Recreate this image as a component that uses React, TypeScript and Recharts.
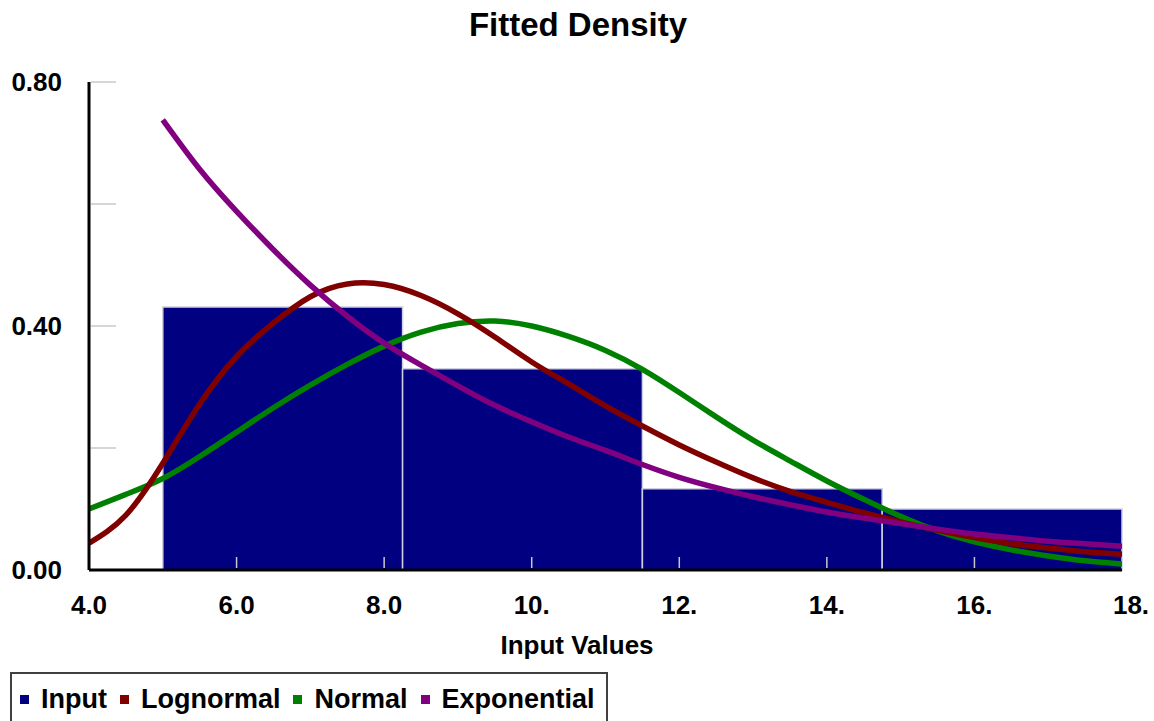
import React from 'react';
import { ComposedChart, Line, XAxis, YAxis, ReferenceArea } from 'recharts';

// histogram bins
const binStart = [5.0, 8.25, 11.5, 14.75];
const binEnd = [8.25, 11.5, 14.75, 18.0];
const binDensity = [0.431, 0.33, 0.133, 0.1];

// fitted curves, sampled every 0.5
const xs = [4.0, 4.5, 5.0, 5.5, 6.0, 6.5, 7.0, 7.5, 8.0, 8.5, 9.0, 9.5, 10.0, 10.5, 11.0, 11.5, 12.0, 12.5, 13.0, 13.5, 14.0, 14.5, 15.0, 15.5, 16.0, 16.5, 17.0, 17.5, 18.0];
const lognormal = [0.044, 0.09, 0.175, 0.272, 0.35, 0.405, 0.448, 0.469, 0.468, 0.45, 0.42, 0.382, 0.341, 0.305, 0.269, 0.236, 0.205, 0.177, 0.151, 0.129, 0.111, 0.094, 0.079, 0.065, 0.053, 0.043, 0.036, 0.03, 0.026];
const normal = [0.1, 0.124, 0.15, 0.186, 0.226, 0.266, 0.303, 0.337, 0.367, 0.39, 0.404, 0.408, 0.4, 0.383, 0.36, 0.329, 0.291, 0.251, 0.213, 0.179, 0.146, 0.116, 0.088, 0.064, 0.046, 0.033, 0.023, 0.015, 0.01];
const exponential = [null, null, 0.738, 0.657, 0.588, 0.525, 0.467, 0.416, 0.372, 0.336, 0.302, 0.27, 0.243, 0.218, 0.196, 0.173, 0.152, 0.135, 0.12, 0.107, 0.095, 0.085, 0.076, 0.067, 0.059, 0.053, 0.047, 0.043, 0.039];

const xTicks = [4, 6, 8, 10, 12, 14, 16, 18];
const yTicks = [0, 0.2, 0.4, 0.6, 0.8];
const yLabeled = [0, 0.4, 0.8];

const legendItems = [
  { name: 'Input', color: '#000080' },
  { name: 'Lognormal', color: '#800000' },
  { name: 'Normal', color: '#008000' },
  { name: 'Exponential', color: '#800080' },
];

const data = xs.map((x, i) => ({
  x,
  lognormal: lognormal[i],
  normal: normal[i],
  exponential: exponential[i],
}));

const FONT = '"Liberation Sans", Arial, sans-serif';

const fmtX = (v: number) => (v < 10 ? v.toFixed(1) : `${v}.`);

const XTick = (props: any) => {
  const { x, y, payload, index } = props;
  const v = payload.value;
  const last = index === xTicks.length - 1;
  return (
    <g>
      {v !== 4 && !last && (
        <line x1={x} x2={x} y1={y - 2} y2={y - 13} stroke="#c8c8c8" strokeWidth={1.5} />
      )}
      <text
        x={x + (last ? 9 : 0)}
        y={y + 35}
        textAnchor="middle"
        dominantBaseline="central"
        fontFamily={FONT}
        fontWeight="bold"
        fontSize={26}
        fill="#000"
      >
        {fmtX(v)}
      </text>
    </g>
  );
};

const YTick = (props: any) => {
  const { x, y, payload } = props;
  const v = payload.value;
  const showLabel = yLabeled.some((t) => Math.abs(t - v) < 1e-6);
  return (
    <g>
      {v !== 0 && <line x1={x + 2} x2={x + 27} y1={y} y2={y} stroke="#c8c8c8" strokeWidth={1.5} />}
      {showLabel && (
        <text
          x={x - 27}
          y={y}
          textAnchor="end"
          dominantBaseline="central"
          fontFamily={FONT}
          fontWeight="bold"
          fontSize={26}
          fill="#000"
        >
          {v.toFixed(2)}
        </text>
      )}
    </g>
  );
};

export default function App() {
  return (
    <div style={{ position: 'absolute', left: 0, top: 0, width: 1154, height: 721, background: '#fff', overflow: 'hidden' }}>
      <div
        style={{
          position: 'absolute',
          left: 0,
          width: 1156,
          top: 4,
          textAlign: 'center',
          fontFamily: FONT,
          fontWeight: 'bold',
          fontSize: 33,
          lineHeight: '42px',
        }}
      >
        Fitted Density
      </div>
      <ComposedChart width={1154} height={721} data={data} margin={{ top: 82, right: 32, left: 0, bottom: 91 }}>
        {binStart.map((s, i) => (
          <ReferenceArea
            key={i}
            x1={s}
            x2={binEnd[i]}
            y1={0}
            y2={binDensity[i]}
            fill="#000080"
            fillOpacity={1}
            stroke="#d0d0e0"
            strokeWidth={1.5}
            ifOverflow="visible"
          />
        ))}
        <XAxis
          type="number"
          dataKey="x"
          domain={[4, 18]}
          ticks={xTicks}
          allowDataOverflow
          height={60}
          tickSize={0}
          tickMargin={0}
          tick={XTick}
          axisLine={{ stroke: '#000', strokeWidth: 3 }}
          tickLine={false}
        />
        <YAxis
          type="number"
          domain={[0, 0.8]}
          ticks={yTicks}
          width={89}
          tickSize={0}
          tickMargin={0}
          tick={YTick}
          axisLine={{ stroke: '#000', strokeWidth: 3 }}
          tickLine={false}
        />
        <Line type="natural" dataKey="normal" stroke="#008000" strokeWidth={5.5} dot={false} isAnimationActive={false} />
        <Line type="natural" dataKey="lognormal" stroke="#800000" strokeWidth={5.5} dot={false} isAnimationActive={false} />
        <Line type="natural" dataKey="exponential" stroke="#800080" strokeWidth={5.5} dot={false} isAnimationActive={false} />
      </ComposedChart>
      <div
        style={{
          position: 'absolute',
          left: 577,
          top: 628,
          transform: 'translateX(-50%)',
          fontFamily: FONT,
          fontWeight: 'bold',
          fontSize: 26,
          lineHeight: '34px',
          whiteSpace: 'nowrap',
        }}
      >
        Input Values
      </div>
      <div
        style={{
          position: 'absolute',
          left: 10,
          top: 672,
          width: 598,
          height: 70,
          border: '2px solid #404040',
          display: 'flex',
          alignItems: 'flex-start',
          paddingLeft: 8,
          paddingTop: 8,
          boxSizing: 'border-box',
          fontFamily: FONT,
          fontWeight: 'bold',
          fontSize: 27,
          lineHeight: '34px',
        }}
      >
        {legendItems.map((it) => (
          <div key={it.name} style={{ display: 'flex', alignItems: 'center', marginRight: 13 }}>
            <span style={{ width: 9, height: 9, background: it.color, marginRight: 12, display: 'inline-block' }} />
            <span>{it.name}</span>
          </div>
        ))}
      </div>
    </div>
  );
}
